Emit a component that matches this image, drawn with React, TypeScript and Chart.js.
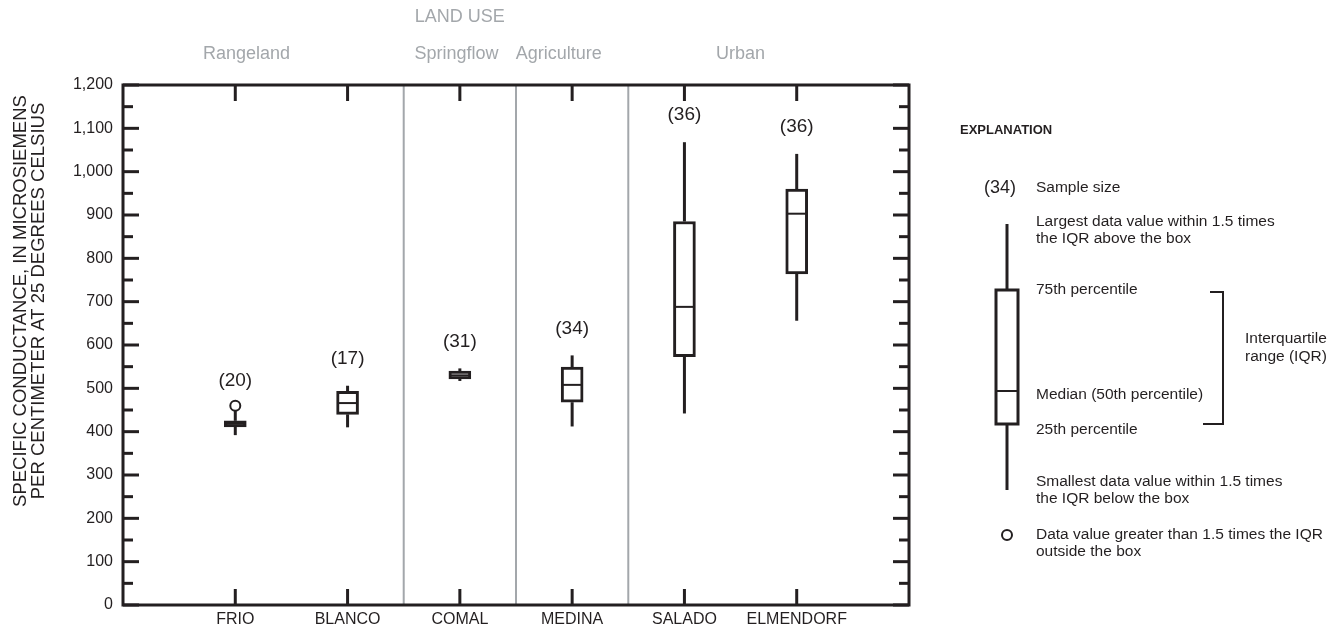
import React, { useEffect, useRef } from "react";
import { Chart, registerables } from "chart.js";

Chart.register(...registerables);

// ---------------- data ----------------
const sites = ["FRIO", "BLANCO", "COMAL", "MEDINA", "SALADO", "ELMENDORF"];
const sampleSizes = [20, 17, 31, 34, 36, 36];
const whiskerLow = [392, 410, 517, 412, 442, 656];
const q1 = [411, 440, 522, 468, 573, 764];
const median = [418, 466, 530, 508, 688, 903];
const q3 = [425, 493, 540, 549, 885, 960];
const whiskerHigh = [448, 506, 546, 576, 1068, 1041];
const outlierSiteIndex = [0];
const outlierValues = [460];
const landUseGroups = ["Rangeland", "Springflow", "Agriculture", "Urban"];
const groupBoundaries = [2.5, 3.5, 4.5];
const yMin = 0;
const yMax = 1200;
const yMajorStep = 100;
const yMinorStep = 50;

// ---------------- style ----------------
const INK = "#231f20";
const GRAY = "#a3a7ab";
const SANS = '"Liberation Sans", Arial, Helvetica, sans-serif';
const NARROW = '"Liberation Sans Narrow", "Liberation Sans", Arial, sans-serif';
const groupLabelPos = [1.1, 2.97, 3.88, 5.5];
const landUsePos = 3.0;

const drawLine = (ctx: CanvasRenderingContext2D, x1: number, y1: number, x2: number, y2: number) => {
  ctx.beginPath();
  ctx.moveTo(x1, y1);
  ctx.lineTo(x2, y2);
  ctx.stroke();
};

const boxPlugin = {
  id: "boxplotExtras",
  beforeDatasetsDraw(chart: any) {
    const { ctx, chartArea: a, scales } = chart;
    const x = scales.x;
    const y = scales.y;
    ctx.save();
    ctx.strokeStyle = GRAY;
    ctx.lineWidth = 2;
    groupBoundaries.forEach((b) => {
      const px = x.getPixelForValue(b);
      drawLine(ctx, px, a.top, px, a.bottom);
    });
    ctx.strokeStyle = INK;
    ctx.lineWidth = 3;
    sites.forEach((_, i) => {
      const px = x.getPixelForValue(i + 1);
      drawLine(ctx, px, y.getPixelForValue(whiskerHigh[i]), px, y.getPixelForValue(q3[i]));
      drawLine(ctx, px, y.getPixelForValue(q1[i]), px, y.getPixelForValue(whiskerLow[i]));
    });
    ctx.restore();
  },
  afterDatasetsDraw(chart: any) {
    const { ctx, chartArea: a, scales } = chart;
    const x = scales.x;
    const y = scales.y;
    ctx.save();
    // medians
    ctx.strokeStyle = INK;
    ctx.lineWidth = 2;
    sites.forEach((_, i) => {
      const px = x.getPixelForValue(i + 1);
      const py = y.getPixelForValue(median[i]);
      drawLine(ctx, px - 10, py, px + 10, py);
    });
    // sample sizes
    ctx.fillStyle = INK;
    ctx.font = `19px ${SANS}`;
    ctx.textAlign = "center";
    ctx.textBaseline = "middle";
    sites.forEach((_, i) => {
      const px = x.getPixelForValue(i + 1);
      let top = y.getPixelForValue(whiskerHigh[i]);
      let gap = 27;
      outlierSiteIndex.forEach((s, k) => {
        if (s === i) {
          top = Math.min(top, y.getPixelForValue(outlierValues[k]) - 5);
          gap = 20;
        }
      });
      ctx.fillText(`(${sampleSizes[i]})`, px, top - gap);
    });
    // frame
    ctx.strokeStyle = INK;
    ctx.lineWidth = 3;
    ctx.strokeRect(a.left, a.top, a.right - a.left, a.bottom - a.top);
    for (let v = yMin; v <= yMax; v += yMinorStep) {
      const py = y.getPixelForValue(v);
      const len = v % yMajorStep === 0 ? 16 : 10;
      drawLine(ctx, a.left, py, a.left + len, py);
      drawLine(ctx, a.right, py, a.right - len, py);
    }
    sites.forEach((_, i) => {
      const px = x.getPixelForValue(i + 1);
      drawLine(ctx, px, a.top, px, a.top + 16);
      drawLine(ctx, px, a.bottom, px, a.bottom - 16);
    });
    // land use labels
    ctx.fillStyle = GRAY;
    ctx.font = `18px ${NARROW}`;
    ctx.textAlign = "center";
    ctx.fillText("LAND USE", x.getPixelForValue(landUsePos), 17);
    landUseGroups.forEach((g, i) => {
      ctx.fillText(g, x.getPixelForValue(groupLabelPos[i]), 54);
    });
    // y axis title
    ctx.fillStyle = INK;
    ctx.font = `18.5px ${SANS}`;
    ctx.save();
    ctx.translate(21, 301);
    ctx.rotate(-Math.PI / 2);
    ctx.fillText("SPECIFIC CONDUCTANCE, IN MICROSIEMENS", 0, 0);
    ctx.fillText("PER CENTIMETER AT 25 DEGREES CELSIUS", 0, 18);
    ctx.restore();

    // explanation
    const L = a.right;
    const wx = L + 98;
    ctx.fillStyle = INK;
    ctx.textAlign = "left";
    ctx.font = `bold 13px ${SANS}`;
    ctx.fillText("EXPLANATION", L + 51, 130);
    ctx.font = `18px ${SANS}`;
    ctx.textAlign = "center";
    ctx.fillText("(34)", wx - 7, 188);
    ctx.textAlign = "left";
    ctx.font = `15.5px ${SANS}`;
    const tx = L + 127;
    ctx.fillText("Sample size", tx, 188);
    ctx.fillText("Largest data value within 1.5 times", tx, 222);
    ctx.fillText("the IQR above the box", tx, 239);
    ctx.fillText("75th percentile", tx, 290);
    ctx.fillText("Median (50th percentile)", tx, 395);
    ctx.fillText("25th percentile", tx, 430);
    ctx.fillText("Smallest data value within 1.5 times", tx, 482);
    ctx.fillText("the IQR below the box", tx, 499);
    ctx.fillText("Data value greater than 1.5 times the IQR", tx, 535);
    ctx.fillText("outside the box", tx, 552);
    ctx.fillText("Interquartile", L + 336, 339);
    ctx.fillText("range (IQR)", L + 336, 357);
    ctx.strokeStyle = INK;
    ctx.lineWidth = 3;
    drawLine(ctx, wx, 224, wx, 290);
    drawLine(ctx, wx, 424, wx, 490);
    ctx.strokeRect(wx - 11, 290, 22, 134);
    ctx.lineWidth = 2;
    drawLine(ctx, wx - 11, 391, wx + 11, 391);
    ctx.beginPath();
    ctx.moveTo(L + 301, 292);
    ctx.lineTo(L + 314, 292);
    ctx.lineTo(L + 314, 424);
    ctx.lineTo(L + 294, 424);
    ctx.stroke();
    ctx.beginPath();
    ctx.arc(wx, 535, 5, 0, Math.PI * 2);
    ctx.stroke();
    ctx.restore();
  },
};

export default function App() {
  const ref = useRef<HTMLCanvasElement>(null);
  useEffect(() => {
    const chart = new Chart(ref.current as HTMLCanvasElement, {
      type: "bar",
      data: {
        datasets: [
          {
            type: "bar",
            data: sites.map((_, i) => ({ x: i + 1, y: [q1[i], q3[i]] })) as any,
            backgroundColor: "#ffffff",
            borderColor: INK,
            borderWidth: 3,
            borderSkipped: false,
            barThickness: 22,
          },
          {
            type: "scatter",
            data: outlierSiteIndex.map((s, k) => ({ x: s + 1, y: outlierValues[k] })) as any,
            pointRadius: 5,
            pointBorderWidth: 2,
            pointBorderColor: INK,
            pointBackgroundColor: "#ffffff",
            showLine: false,
          },
        ],
      },
      options: {
        animation: false,
        responsive: true,
        maintainAspectRatio: false,
        layout: { padding: { left: 0, top: 85, right: 424, bottom: 0 } },
        plugins: { legend: { display: false }, tooltip: { enabled: false } },
        scales: {
          x: {
            type: "linear",
            min: 0,
            max: 7,
            offset: false,
            grid: { display: false, drawTicks: false },
            border: { display: false },
            ticks: {
              stepSize: 1,
              autoSkip: false,
              maxRotation: 0,
              padding: 5,
              color: INK,
              font: { family: NARROW, size: 16 },
              callback: (v: any) => {
                const n = Number(v);
                return n >= 1 && n <= sites.length && Number.isInteger(n) ? sites[n - 1] : "";
              },
            },
            afterFit: (s: any) => {
              s.height = 23;
            },
          },
          y: {
            min: yMin,
            max: yMax,
            grid: { display: false, drawTicks: false },
            border: { display: false },
            ticks: {
              stepSize: yMajorStep,
              padding: 10,
              color: INK,
              font: { family: SANS, size: 16 },
              callback: (v: any) => Number(v).toLocaleString("en-US"),
            },
            afterFit: (s: any) => {
              s.width = 123;
            },
          },
        },
      },
      plugins: [boxPlugin],
    } as any);
    return () => chart.destroy();
  }, []);
  return (
    <div style={{ position: "fixed", left: 0, top: 0, width: 1333, height: 628, background: "#fff" }}>
      <canvas ref={ref} />
    </div>
  );
}
